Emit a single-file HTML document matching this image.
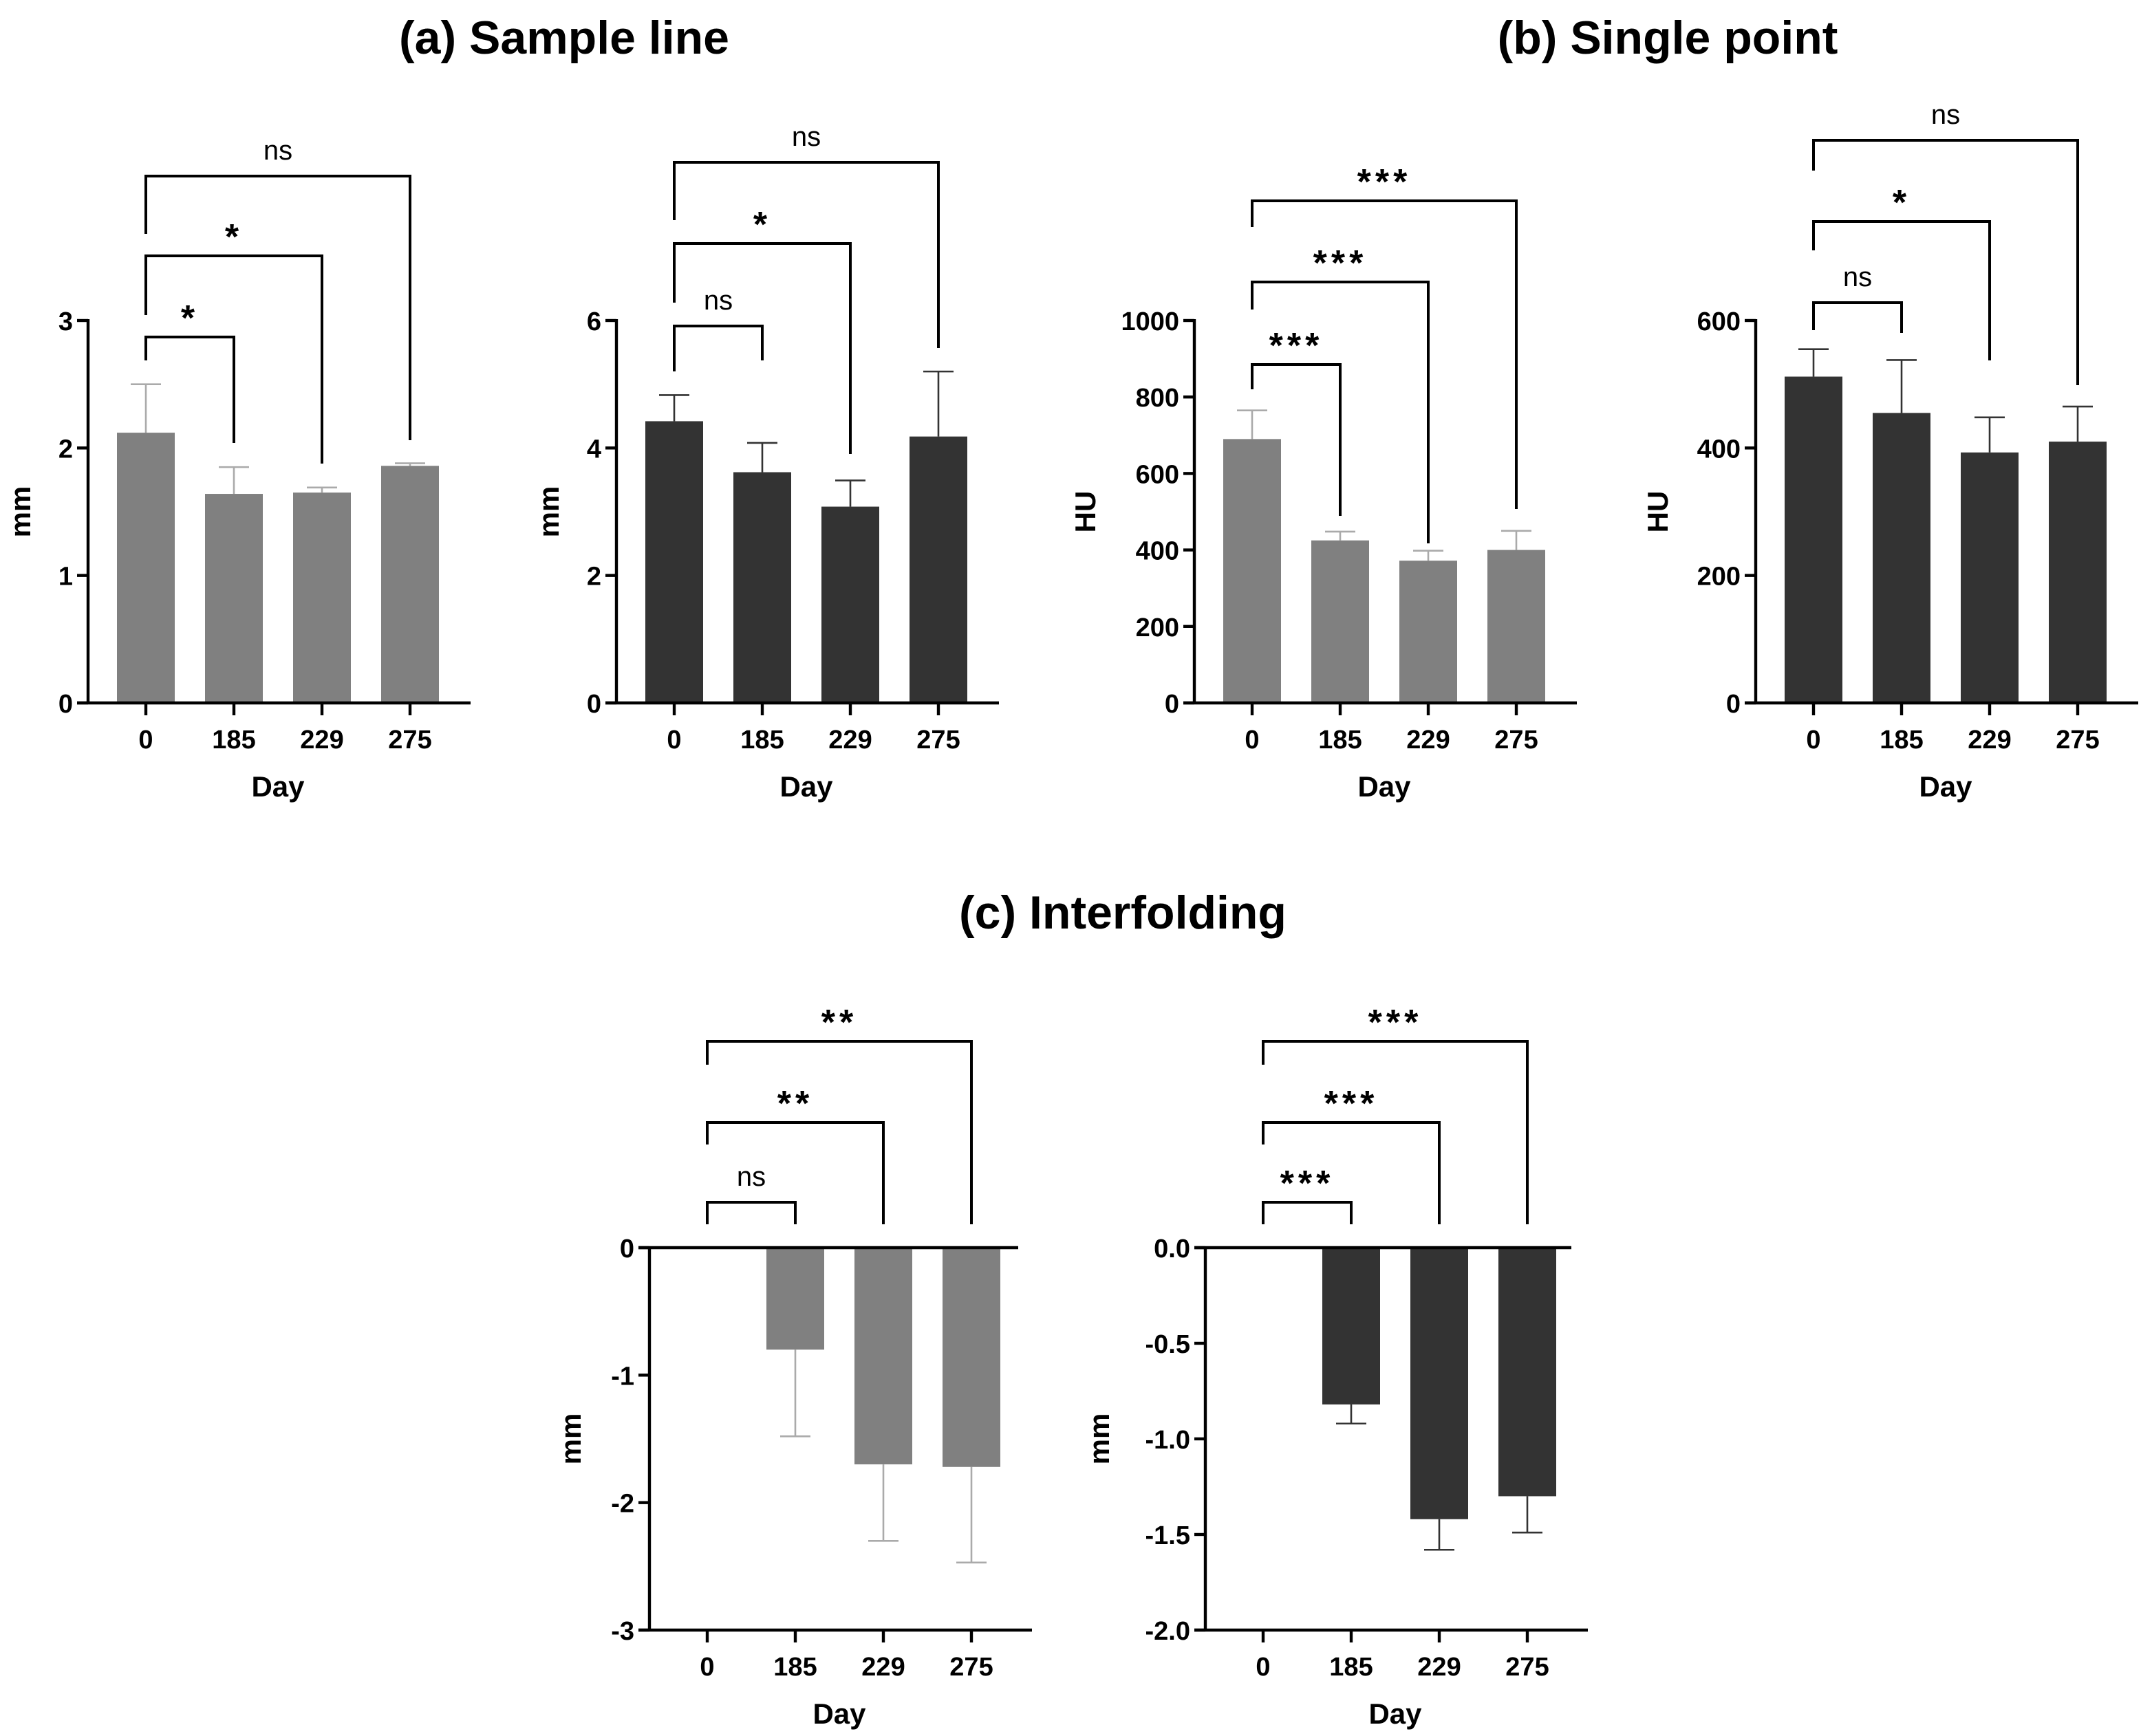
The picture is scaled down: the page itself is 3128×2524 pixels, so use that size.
<!DOCTYPE html>
<html><head><meta charset="utf-8"><style>
html,body{margin:0;padding:0;background:#fff}
svg{display:block}
text{font-family:"Liberation Sans",Arial,sans-serif}
</style></head><body>
<svg id="fig" width="3128" height="2524" viewBox="0 0 1564 1262" xmlns="http://www.w3.org/2000/svg">
<text x="410" y="39" text-anchor="middle" font-size="34" font-weight="bold">(a) Sample line</text>
<text x="1212" y="39" text-anchor="middle" font-size="34" font-weight="bold">(b) Single point</text>
<text x="816" y="675" text-anchor="middle" font-size="34" font-weight="bold">(c) Interfolding</text>
</svg>
<script>
const categories = ["0","185","229","275"];
const a1Values = [2.12, 1.64, 1.65, 1.86];
const a1ErrTop = [2.50, 1.85, 1.69, 1.88];
const a1Ticks = [0, 1, 2, 3];
const a1Labels = ["0","1","2","3"];
const a1Sig = ["*","*","ns"];
const a2Values = [4.42, 3.62, 3.08, 4.18];
const a2ErrTop = [4.83, 4.08, 3.49, 5.20];
const a2Ticks = [0, 2, 4, 6];
const a2Labels = ["0","2","4","6"];
const a2Sig = ["ns","*","ns"];
const b1Values = [690, 425, 372, 400];
const b1ErrTop = [765, 448, 398, 450];
const b1Ticks = [0, 200, 400, 600, 800, 1000];
const b1Labels = ["0","200","400","600","800","1000"];
const b1Sig = ["***","***","***"];
const b2Values = [512, 455, 393, 410];
const b2ErrTop = [555, 538, 448, 465];
const b2Ticks = [0, 200, 400, 600];
const b2Labels = ["0","200","400","600"];
const b2Sig = ["ns","*","ns"];
const c1Values = [0, -0.80, -1.70, -1.72];
const c1ErrTop = [0, -1.48, -2.30, -2.47];
const c1Ticks = [0, -1, -2, -3];
const c1Labels = ["0","-1","-2","-3"];
const c1Sig = ["ns","**","**"];
const c2Values = [0, -0.82, -1.42, -1.30];
const c2ErrTop = [0, -0.92, -1.58, -1.49];
const c2Ticks = [0, -0.5, -1.0, -1.5, -2.0];
const c2Labels = ["0.0","-0.5","-1.0","-1.5","-2.0"];
const c2Sig = ["***","***","***"];

const svg = document.getElementById('fig');
const NS = 'http://www.w3.org/2000/svg';
function mk(tag, attrs, parent){
  const e = document.createElementNS(NS, tag);
  for (const k in attrs) e.setAttribute(k, attrs[k]);
  (parent||svg).appendChild(e);
  return e;
}
function panel(id, cfg, values, errs, ticks, labels, sig){
  const g = mk('g', {});
  
  
  const yS = v => cfg.y0 + (cfg.yTop - cfg.y0) * (v - cfg.vmin) / (cfg.vmax - cfg.vmin);
  const xS = i => cfg.x0 + 42 + i * 64;
  const fill = cfg.dark ? '#333333' : '#808080';
  const errC = cfg.dark ? '#333333' : '#aaaaaa';
  const zeroY = yS(0);
  values.forEach((v, i) => {
    if (v === 0) return;
    const y1 = yS(v), top = Math.min(y1, zeroY), h = Math.abs(y1 - zeroY);
    const ey = yS(errs[i]);
    const l = mk('line', {x1: xS(i), x2: xS(i), y1: y1, y2: ey, stroke: errC, 'stroke-width': 1.3}, g);
    
    
    const c = mk('line', {x1: xS(i) - 11, x2: xS(i) + 11, y1: ey, y2: ey, stroke: errC, 'stroke-width': 1.3}, g);
    
    
    const r = mk('rect', {x: xS(i) - 21, y: top, width: 42, height: h, fill: fill}, g);
    
    
  });
  const yBot = Math.max(yS(ticks[0]), yS(ticks[ticks.length-1]));
  const yMin = Math.min(yS(ticks[0]), yS(ticks[ticks.length-1]));
  const ya = mk('line', {x1: cfg.x0, x2: cfg.x0, y1: yMin - 1, y2: yBot + 1, stroke: '#000', 'stroke-width': 2.2}, g);
  
  
  const xa = mk('line', {x1: cfg.x0 - 8, x2: xS(3) + 44, y1: cfg.xAxisY, y2: cfg.xAxisY, stroke: '#000', 'stroke-width': 2.2}, g);
  
  
  ticks.forEach((t, i) => {
    const y = yS(t);
    mk('line', {x1: cfg.x0 - 8, x2: cfg.x0, y1: y, y2: y, stroke: '#000', 'stroke-width': 2.2}, g);
    const tx = mk('text', {x: cfg.x0 - 11, y: y + 7, 'text-anchor': 'end', 'font-size': 19, 'font-weight': 'bold'}, g);
    tx.textContent = labels[i];
    
    
  });
  categories.forEach((c, i) => {
    mk('line', {x1: xS(i), x2: xS(i), y1: cfg.xAxisY, y2: cfg.xAxisY + 9, stroke: '#000', 'stroke-width': 2.2}, g);
    const tx = mk('text', {x: xS(i), y: cfg.xAxisY + 33, 'text-anchor': 'middle', 'font-size': 19, 'font-weight': 'bold'}, g);
    tx.textContent = c;
    
    
  });
  const xt = mk('text', {x: (xS(0) + xS(3)) / 2, y: cfg.xAxisY + 68, 'text-anchor': 'middle', 'font-size': 21, 'font-weight': 'bold'}, g);
  xt.textContent = 'Day';
  
  
  const my = (yMin + yBot) / 2;
  const lx = cfg.x0 - cfg.lOff;
  const yt = mk('text', {x: lx, y: my, 'text-anchor': 'middle', 'font-size': 21, 'font-weight': 'bold', transform: 'rotate(-90 ' + lx + ' ' + my + ')'}, g);
  yt.textContent = cfg.ylabel;
  
  
  cfg.br.forEach((b, k) => {
    const xr = xS(k + 1);
    const p = mk('polyline', {points: xS(0) + ',' + b[1] + ' ' + xS(0) + ',' + b[0] + ' ' + xr + ',' + b[0] + ' ' + xr + ',' + b[2], fill: 'none', stroke: '#000', 'stroke-width': 2}, g);
    
    
    const isNs = sig[k] === 'ns';
    const t = mk('text', {x: (xS(0) + xr) / 2, y: isNs ? b[0] - 12 : b[0] - 5, 'text-anchor': 'middle', 'font-size': isNs ? 20 : 26, 'font-weight': isNs ? 'normal' : 'bold', 'letter-spacing': isNs ? 0 : 3}, g);
    t.textContent = sig[k];
    
    
  });
}
panel('a1', {x0: 64, y0: 511, yTop: 233, vmin: 0, vmax: 3, xAxisY: 511, dark: false, ylabel: 'mm', lOff: 42,
  br: [[245, 262, 322], [186, 229, 337], [128, 170, 320]]}, a1Values, a1ErrTop, a1Ticks, a1Labels, a1Sig);
panel('a2', {x0: 448, y0: 511, yTop: 233, vmin: 0, vmax: 6, xAxisY: 511, dark: true, ylabel: 'mm', lOff: 42,
  br: [[237, 270, 262], [177, 220, 330], [118, 160, 253]]}, a2Values, a2ErrTop, a2Ticks, a2Labels, a2Sig);
panel('b1', {x0: 868, y0: 511, yTop: 233, vmin: 0, vmax: 1000, xAxisY: 511, dark: false, ylabel: 'HU', lOff: 72,
  br: [[265, 283, 375], [205, 225, 395], [146, 165, 370]]}, b1Values, b1ErrTop, b1Ticks, b1Labels, b1Sig);
panel('b2', {x0: 1276, y0: 511, yTop: 233, vmin: 0, vmax: 600, xAxisY: 511, dark: true, ylabel: 'HU', lOff: 64,
  br: [[220, 240, 242], [161, 182, 262], [102, 124, 280]]}, b2Values, b2ErrTop, b2Ticks, b2Labels, b2Sig);
panel('c1', {x0: 472, y0: 907, yTop: 1185, vmin: 0, vmax: -3, xAxisY: 1185, dark: false, ylabel: 'mm', lOff: 50,
  br: [[874, 890, 890], [816, 832, 890], [757, 774, 890]]}, c1Values, c1ErrTop, c1Ticks, c1Labels, c1Sig);
panel('c2', {x0: 876, y0: 907, yTop: 1185, vmin: 0, vmax: -2, xAxisY: 1185, dark: true, ylabel: 'mm', lOff: 70,
  br: [[874, 890, 890], [816, 832, 890], [757, 774, 890]]}, c2Values, c2ErrTop, c2Ticks, c2Labels, c2Sig);
[['c1', 472, 740], ['c2', 876, 1142]].forEach(z => {
  const l = mk('line', {x1: z[1] - 8, x2: z[2], y1: 907, y2: 907, stroke: '#000', 'stroke-width': 2.2});
  
  
});
</script>
</body></html>
